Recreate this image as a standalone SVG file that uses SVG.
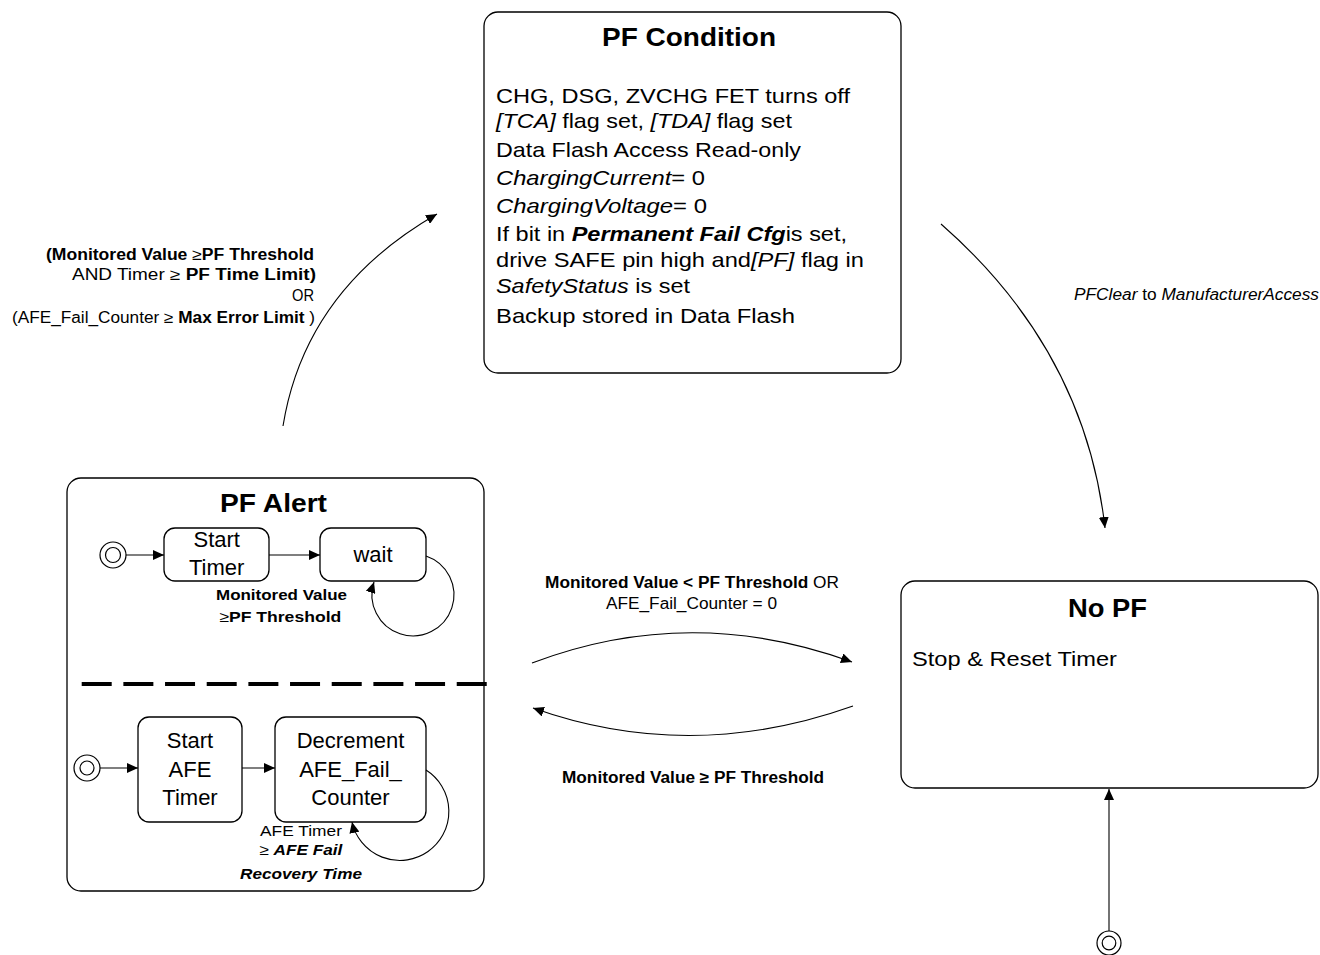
<svg xmlns="http://www.w3.org/2000/svg" width="1320" height="955" viewBox="0 0 1320 955">
<style>
text{font-family:"Liberation Sans",Arial,sans-serif;fill:#000}
.box{fill:#fff;stroke:#000;stroke-width:1.3}
.ln{fill:none;stroke:#000;stroke-width:1.1}
.init{fill:#fff;stroke:#000;stroke-width:1.2}
.b{font-weight:bold}
.i{font-style:italic}
.bi{font-weight:bold;font-style:italic}
.t21{font-size:21px}
.t22{font-size:22px}
.t16{font-size:16px}
.t15{font-size:15px}
.ttl{font-size:26px;font-weight:bold}
</style>
<defs>
<marker id="arr" markerUnits="userSpaceOnUse" markerWidth="12" markerHeight="10" viewBox="0 0 12 10" refX="11" refY="5" orient="auto">
<path d="M0,0 L11,5 L0,10 z" fill="#000"/>
</marker>
</defs>
<rect width="1320" height="955" fill="#fff"/>

<g id="labels">
<text class="t16" x="46" y="260" textLength="268" lengthAdjust="spacingAndGlyphs"><tspan class="b">(Monitored Value </tspan>≥<tspan class="b">PF Threshold</tspan></text>
<text class="t16" x="72" y="280" textLength="244" lengthAdjust="spacingAndGlyphs">AND  Timer  ≥  <tspan class="b">PF Time  Limit)</tspan></text>
<text class="t16" x="292" y="301" textLength="22" lengthAdjust="spacingAndGlyphs">OR</text>
<text class="t16" x="12" y="322.7" textLength="303" lengthAdjust="spacingAndGlyphs">(AFE_Fail_Counter ≥ <tspan class="b">Max Error Limit</tspan> )</text>
<text class="t16" x="1074" y="299.5" textLength="245" lengthAdjust="spacingAndGlyphs"><tspan class="i">PFClear</tspan> to <tspan class="i">ManufacturerAccess</tspan></text>
<text class="t16" x="545" y="588.3" textLength="294" lengthAdjust="spacingAndGlyphs"><tspan class="b">Monitored Value  &lt; PF Threshold</tspan> OR</text>
<text class="t16" x="606" y="609.3" textLength="171" lengthAdjust="spacingAndGlyphs">AFE_Fail_Counter = 0</text>
<text class="t16 b" x="562" y="782.7" textLength="262" lengthAdjust="spacingAndGlyphs">Monitored Value ≥ PF Threshold</text>
</g>

<g id="pf-condition">
<rect class="box" x="484" y="12" width="417" height="361" rx="14"/>
<text class="ttl" x="602" y="45.7" textLength="174" lengthAdjust="spacingAndGlyphs">PF Condition</text>
<text class="t21" x="496" y="102.7" textLength="354" lengthAdjust="spacingAndGlyphs">CHG, DSG, ZVCHG FET turns off</text>
<text class="t21" x="496" y="128.3" textLength="296" lengthAdjust="spacingAndGlyphs"><tspan class="i">[TCA]</tspan> flag set, <tspan class="i">[TDA]</tspan> flag set</text>
<text class="t21" x="496" y="156.7" textLength="305" lengthAdjust="spacingAndGlyphs">Data Flash Access Read-only</text>
<text class="t21" x="496" y="185" textLength="209" lengthAdjust="spacingAndGlyphs"><tspan class="i">ChargingCurrent</tspan>= 0</text>
<text class="t21" x="496" y="212.7" textLength="211" lengthAdjust="spacingAndGlyphs"><tspan class="i">ChargingVoltage</tspan>= 0</text>
<text class="t21" x="496" y="241" textLength="351" lengthAdjust="spacingAndGlyphs">If bit in <tspan class="bi">Permanent Fail Cfg</tspan>is set,</text>
<text class="t21" x="496" y="266.7" textLength="368" lengthAdjust="spacingAndGlyphs">drive SAFE pin high and<tspan class="i">[PF]</tspan> flag in</text>
<text class="t21" x="496" y="293.3" textLength="194" lengthAdjust="spacingAndGlyphs"><tspan class="i">SafetyStatus</tspan> is set</text>
<text class="t21" x="496" y="322.7" textLength="299" lengthAdjust="spacingAndGlyphs">Backup stored in Data Flash</text>
</g>

<g id="no-pf">
<rect class="box" x="901" y="581" width="417" height="207" rx="14"/>
<text class="ttl" x="1068" y="616.7" textLength="79" lengthAdjust="spacingAndGlyphs">No PF</text>
<text class="t21" x="912" y="665.7" textLength="205" lengthAdjust="spacingAndGlyphs">Stop &amp; Reset Timer</text>
</g>

<g id="init-nopf">
<circle class="init" cx="1109" cy="943" r="12"/>
<circle class="init" cx="1109" cy="943" r="6.8"/>
</g>

<g id="pf-alert">
<rect class="box" x="67" y="478" width="417" height="413" rx="14"/>
<text class="ttl" x="220" y="512.3" textLength="107" lengthAdjust="spacingAndGlyphs" style="font-size:25px">PF Alert</text>
<path d="M81.7,684 L487,684" fill="none" stroke="#000" stroke-width="4" stroke-dasharray="30 11.67"/>
</g>

<g id="init-alert-1">
<circle class="init" cx="113" cy="555" r="13"/>
<circle class="init" cx="113" cy="555" r="7.5"/>
</g>

<g id="start-timer">
<rect class="box" x="164" y="528" width="105" height="53" rx="11"/>
<text class="t22" x="216.7" y="546.7" text-anchor="middle">Start</text>
<text class="t22" x="216.7" y="575" text-anchor="middle">Timer</text>
</g>

<g id="wait">
<rect class="box" x="320" y="528" width="106" height="53" rx="11"/>
<text class="t22" x="373" y="562.3" text-anchor="middle">wait</text>
</g>

<g id="wait-loop-label">
<text class="t15 b" x="216" y="600" textLength="131" lengthAdjust="spacingAndGlyphs">Monitored Value</text>
<text class="t15" x="219.3" y="621.7" textLength="122" lengthAdjust="spacingAndGlyphs">≥<tspan class="b">PF Threshold</tspan></text>
</g>

<g id="init-alert-2">
<circle class="init" cx="87" cy="768" r="13"/>
<circle class="init" cx="87" cy="768" r="7"/>
</g>

<g id="start-afe-timer">
<rect class="box" x="138" y="717" width="104" height="105" rx="11"/>
<text class="t22" x="190" y="748.3" text-anchor="middle">Start</text>
<text class="t22" x="190" y="776.7" text-anchor="middle">AFE</text>
<text class="t22" x="190" y="805" text-anchor="middle">Timer</text>
</g>

<g id="decrement">
<rect class="box" x="275" y="717" width="151" height="105" rx="11"/>
<text class="t22" x="350.5" y="748.3" text-anchor="middle">Decrement</text>
<text class="t22" x="350.5" y="776.7" text-anchor="middle">AFE_Fail_</text>
<text class="t22" x="350.5" y="805" text-anchor="middle">Counter</text>
</g>

<g id="decrement-loop-label">
<text class="t15" x="260" y="835.7" textLength="82" lengthAdjust="spacingAndGlyphs">AFE Timer</text>
<text class="t15" x="259.3" y="855" textLength="83" lengthAdjust="spacingAndGlyphs">≥ <tspan class="bi">AFE Fail</tspan></text>
<text class="t15 bi" x="240" y="879.3" textLength="122" lengthAdjust="spacingAndGlyphs">Recovery Time</text>
</g>

<g id="connectors">
<path class="ln" d="M283,426 Q305,290 437,214" marker-end="url(#arr)"/>
<path class="ln" d="M941,224 Q1085,350 1105,528" marker-end="url(#arr)"/>
<path class="ln" d="M532,663 Q690,603 852,662" marker-end="url(#arr)"/>
<path class="ln" d="M853,706 Q690,764 533,708" marker-end="url(#arr)"/>
<path class="ln" d="M1109,931 L1109,789" marker-end="url(#arr)"/>
<path class="ln" d="M126,555 L164,555" marker-end="url(#arr)"/>
<path class="ln" d="M269,555 L320,555" marker-end="url(#arr)"/>
<path class="ln" d="M426,556 A41,41 0 1 1 374,582" marker-end="url(#arr)"/>
<path class="ln" d="M100,768 L138,768" marker-end="url(#arr)"/>
<path class="ln" d="M242,768 L275,768" marker-end="url(#arr)"/>
<path class="ln" d="M426,770 A49,49 0 1 1 352,822" marker-end="url(#arr)"/>
</g>
</svg>
